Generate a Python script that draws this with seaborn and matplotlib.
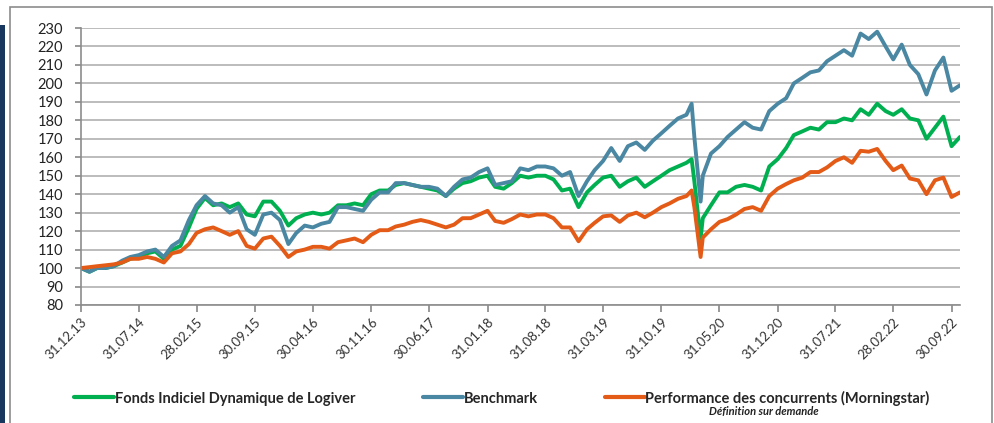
import pandas as pd
import matplotlib.pyplot as plt
import matplotlib.dates as mdates
from matplotlib.patches import Rectangle
import seaborn as sns

# month-end values, plus the two covid extremes (19.02.20 and 23.03.20)
month_ends = pd.date_range("2013-12-31", "2022-10-31", freq="ME")
covid_days = pd.to_datetime(["2020-02-19", "2020-03-23"])
dates = month_ends.append(covid_days).sort_values()

fonds = [100, 98, 100, 100, 101, 103, 105, 106, 108, 109, 105, 110, 112,
         122, 132, 138, 134, 135, 133, 135, 129, 128, 136, 136, 131,
         123, 127, 129, 130, 129, 130, 134, 134, 135, 134, 140, 142,
         142, 145, 146, 145, 144, 143, 142, 139, 143, 146, 147, 149,
         150, 144, 143, 146, 150, 149, 150, 150, 148, 142, 143, 133,
         141, 145, 149, 150, 144, 147, 149, 144, 147, 150, 153, 155,
         157, 159, 147, 116, 127, 134, 141, 141, 144, 145, 144, 142, 155, 159,
         165, 172, 174, 176, 175, 179, 179, 181, 180, 186, 183, 189,
         185, 183, 186, 181, 180, 170, 176, 182, 166, 171]

benchmark = [100, 98, 100, 100, 101, 104, 106, 107, 109, 110, 106, 112, 115,
             126, 134, 139, 135, 134, 130, 133, 121, 118, 129, 130, 126,
             113, 119, 123, 122, 124, 125, 133, 133, 132, 131, 137, 141,
             141, 146, 146, 145, 144, 144, 143, 139, 144, 148, 149, 152,
             154, 145, 146, 147, 154, 153, 155, 155, 154, 150, 152, 139,
             147, 153, 158, 165, 158, 166, 168, 164, 169, 173, 177, 181,
             183, 189, 171, 136, 150, 162, 166, 171, 175, 179, 176, 175, 185, 189,
             192, 200, 203, 206, 207, 212, 215, 218, 215, 227, 224, 228,
             220, 213, 221, 210, 205, 194, 207, 214, 196, 199]

concurrents = [100, 100.5, 101, 101.5, 102, 103, 105, 105, 106, 105, 103, 108, 109,
               113, 119, 121, 122, 120, 118, 120, 112, 110.5, 116, 117, 112,
               106, 109, 110, 111.5, 111.5, 110.5, 114, 115, 116, 114, 118, 120.5,
               120.5, 122.5, 123.5, 125, 126, 125, 123.5, 122, 123.5, 127, 127, 129,
               131, 125.5, 124.5, 126.5, 129, 128, 129, 129, 127, 122, 122, 114.5,
               121, 124.5, 128, 128.5, 125, 128.5, 130, 127.5, 130, 133, 135, 137.5,
               139, 142, 133, 106, 116.5, 121, 125, 126.5, 129, 132, 133, 131, 139, 143,
               145.5, 147.5, 149, 152, 152, 154.5, 158, 160, 157, 163.5, 163, 164.5,
               158, 153, 155.5, 148.5, 147.5, 140, 147.5, 149, 138.5, 141]

tick_dates = pd.date_range("2013-12-31", "2022-09-30", freq="7ME")

sns.set_theme(style="white")
plt.rcParams["font.family"] = ["Lato", "DejaVu Sans"]

fig = plt.figure(figsize=(9.94, 4.23), dpi=100)
ax = fig.add_axes([0.0815, 0.279, 0.8843, 0.6548])

# frame and the dark side bar of the original slide
fig.patches.append(Rectangle((0.0101, -0.02), 0.9879, 1.0035, transform=fig.transFigure,
                             fill=False, edgecolor="#8c8c8c", linewidth=1.2))
fig.patches.append(Rectangle((0, -0.02), 0.0055, 0.96, transform=fig.transFigure,
                             facecolor="#17375e", edgecolor="none"))

sns.lineplot(x=dates, y=fonds, color="#00b050", linewidth=2.8, ax=ax,
             label="Fonds Indiciel Dynamique de Logiver")
sns.lineplot(x=dates, y=benchmark, color="#4a87a2", linewidth=2.8, ax=ax,
             label="Benchmark")
sns.lineplot(x=dates, y=concurrents, color="#e35b16", linewidth=2.8, ax=ax,
             label="Performance des concurrents (Morningstar)")

ax.set_ylim(80, 230)
ax.set_yticks(range(80, 231, 10))
ax.set_xlim(dates[0], dates[-1])
ax.set_xticks(tick_dates)
ax.xaxis.set_major_formatter(mdates.DateFormatter("%d.%m.%y"))
ax.grid(axis="y", color="#b0b0b0", linewidth=1.2)
ax.set_axisbelow(True)

for side in ["top", "right"]:
    ax.spines[side].set_visible(False)
for side in ["left", "bottom"]:
    ax.spines[side].set_color("#8c8c8c")
    ax.spines[side].set_linewidth(1.2)

ax.tick_params(axis="y", left=True, length=4, color="#8c8c8c", pad=9,
               labelsize=10.5, labelcolor="#222222")
ax.tick_params(axis="x", bottom=True, length=5, color="#8c8c8c", pad=3,
               labelsize=9.5, labelcolor="#333333")
plt.setp(ax.get_xticklabels(), rotation=45, ha="right", va="top", rotation_mode="anchor")
ax.set_xlabel("")
ax.set_ylabel("")

leg = ax.legend(loc="center", bbox_to_anchor=(0.505, 0.059), bbox_transform=fig.transFigure,
                ncol=3, frameon=False, handlelength=2.75, handletextpad=0.05,
                columnspacing=4.6, prop={"weight": "bold", "size": 10.5})
for line in leg.get_lines():
    line.set_linewidth(3)

fig.text(0.768, 0.028, "Définition sur demande", ha="center", va="center",
         fontsize=8, style="italic", weight="bold", color="#222222")

fig.savefig("out.png", dpi=100)
